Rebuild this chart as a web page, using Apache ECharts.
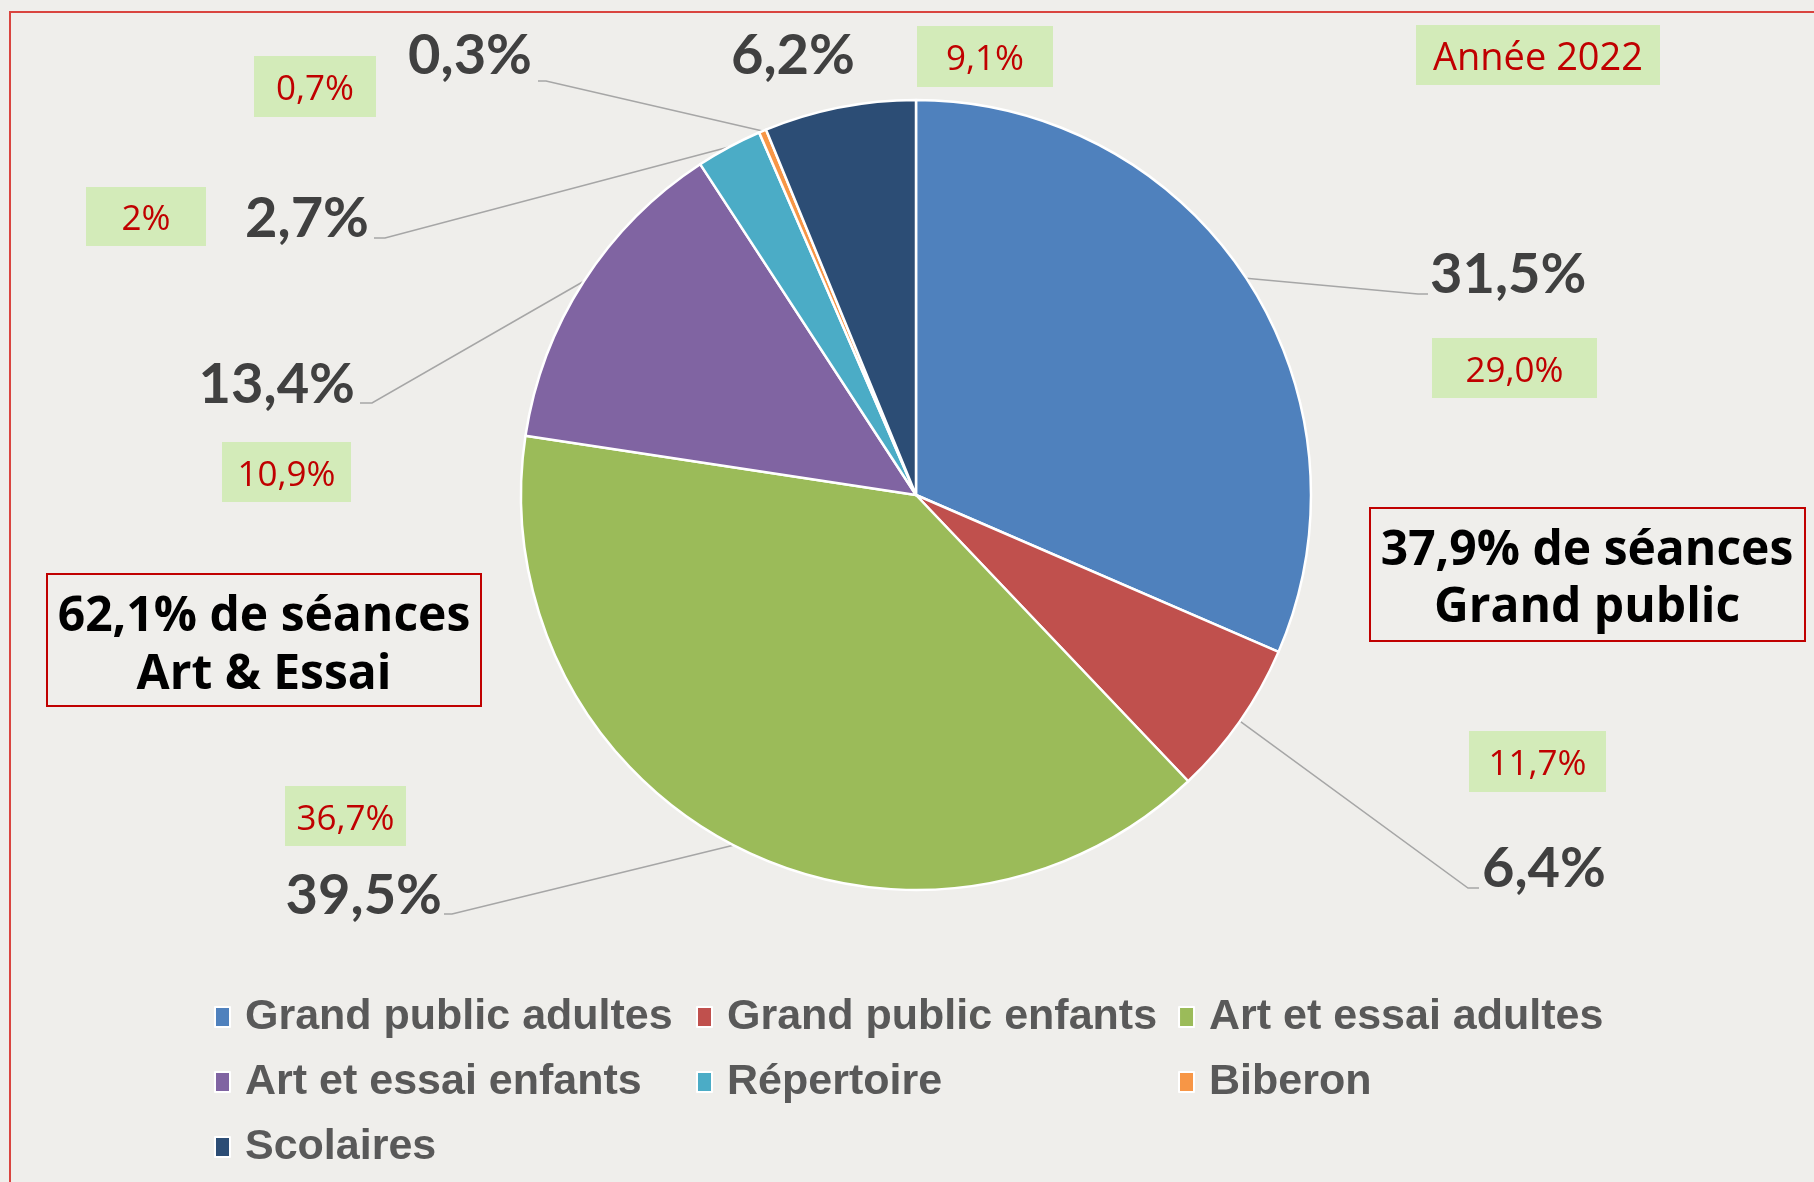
<!DOCTYPE html>
<html><head><meta charset="utf-8">
<script src="https://cdn.jsdelivr.net/npm/echarts@6/dist/echarts.min.js"></script>
<style>html,body{margin:0;padding:0;background:#efeeeb;overflow:hidden}#chart{width:1814px;height:1182px}</style>
</head><body><div id="chart"></div>
<script>
// ---- data ----
const categories = ['Grand public adultes', 'Grand public enfants', 'Art et essai adultes', 'Art et essai enfants', 'Répertoire', 'Biberon', 'Scolaires'];
const shares2022 = [31.5, 6.4, 39.5, 13.4, 2.7, 0.3, 6.2];
const sharesPreviousLabels = ['29,0%', '11,7%', '36,7%', '10,9%', '2%', '0,7%', '9,1%'];
const yearLabel = 'Année 2022';
const groupArtEssai = ['62,1% de séances', 'Art & Essai'];
const groupGrandPublic = ['37,9% de séances', 'Grand public'];
const sliceColors = ['#4F81BD', '#C0504D', '#9BBB59', '#8064A2', '#4BACC6', '#F79646', '#2C4D75'];

// ---- layout (label placement, annotation boxes) ----
const labelSpots = [
  {x: 1430, y: 275, align: 'left',   knee: [[1418, 294], [1428, 294]]},
  {x: 1482, y: 869, align: 'left',   knee: [[1468, 888], [1479, 888]]},
  {x: 442,  y: 896, align: 'right',  knee: [[452, 914], [444, 914]]},
  {x: 355,  y: 385, align: 'right',  knee: [[372, 403], [360, 403]]},
  {x: 369,  y: 219, align: 'right',  knee: [[385, 238], [374, 238]]},
  {x: 532,  y: 56,  align: 'right',  knee: [[546, 81], [538, 81]]},
  {x: 793,  y: 56,  align: 'center', knee: null}
];
const prevBoxes = [
  [1432, 338, 165, 60],
  [1469, 731, 137, 61],
  [285, 786, 121, 60],
  [222, 442, 129, 60],
  [86, 187, 120, 59],
  [254, 56, 122, 61],
  [917, 26, 136, 61]
];
const yearBox = [1416, 25, 244, 60];
const groupBoxes = [
  {rect: [47, 574, 434, 132], cx: 264, lines: groupArtEssai, ys: [617, 675]},
  {rect: [1370, 508, 435, 133], cx: 1587, lines: groupGrandPublic, ys: [551, 608]}
];

const GREEN = '#d3ebb9', RED = '#c00000';
const graphics = [];
graphics.push({type: 'rect', shape: {x: 10, y: 12, width: 1900, height: 1300}, style: {fill: 'none', stroke: '#d9443f', lineWidth: 2}, silent: true});
function greenBox(b, text, fs) {
  graphics.push({type: 'rect', shape: {x: b[0], y: b[1], width: b[2], height: b[3]}, style: {fill: GREEN}, silent: true});
  graphics.push({type: 'text', x: b[0] + b[2] / 2, y: b[1] + b[3] / 2 + 4, style: {text: text, fill: RED, fontSize: fs, fontFamily: '"Open Sans"', align: 'center', verticalAlign: 'middle'}, silent: true});
}
sharesPreviousLabels.forEach((t, i) => greenBox(prevBoxes[i], t, 35));
greenBox(yearBox, yearLabel, 38);
groupBoxes.forEach(g => {
  const r = g.rect;
  graphics.push({type: 'rect', shape: {x: r[0], y: r[1], width: r[2], height: r[3]}, style: {fill: 'none', stroke: RED, lineWidth: 2}, silent: true});
  g.lines.forEach((t, k) => graphics.push({type: 'text', x: g.cx, y: g.ys[k], style: {text: t, fill: '#000', fontSize: 48, fontWeight: 'bold', fontFamily: '"Open Sans"', align: 'center', verticalAlign: 'middle'}, silent: true}));
});

const chart = echarts.init(document.getElementById('chart'), null, {renderer: 'canvas'});
chart.setOption({
  backgroundColor: '#efeeeb',
  animation: false,
  color: sliceColors,
  legend: {
    left: 209, top: 990, width: 1480,
    itemWidth: 15, itemHeight: 20, itemGap: 21,
    icon: 'rect',
    selectedMode: false,
    textStyle: {fontFamily: '"Liberation Sans", Arial, sans-serif', fontWeight: 'bold', fontSize: 43, color: '#595959', width: 430, lineHeight: 44, padding: [0, 0, 0, 10]}
  },
  series: [{
    type: 'pie',
    center: [916, 495],
    radius: 395,
    startAngle: 90,
    clockwise: true,
    avoidLabelOverlap: false,
    emphasis: {disabled: true},
    data: categories.map((c, i) => ({name: c, value: shares2022[i], labelLine: {show: i !== 6}})),
    itemStyle: {borderColor: '#ffffff', borderWidth: 2.5},
    label: {
      show: true, position: 'outside',
      formatter: p => p.value.toFixed(1).replace('.', ',') + '%',
      fontFamily: 'Lato', fontWeight: 'bold', fontSize: 56, color: '#404040'
    },
    labelLine: {show: true, length: 10, length2: 10, lineStyle: {color: '#a6a6a6', width: 1.5}},
    labelLayout: function (p) {
      const s = labelSpots[p.dataIndex];
      const out = {x: s.x, y: s.y, align: s.align, verticalAlign: 'middle'};
      if (s.knee && p.labelLinePoints && p.labelLinePoints.length) {
        out.labelLinePoints = [p.labelLinePoints[0], s.knee[0], s.knee[1]];
      }
      return out;
    }
  }],
  graphic: {elements: graphics}
});
</script></body></html>
